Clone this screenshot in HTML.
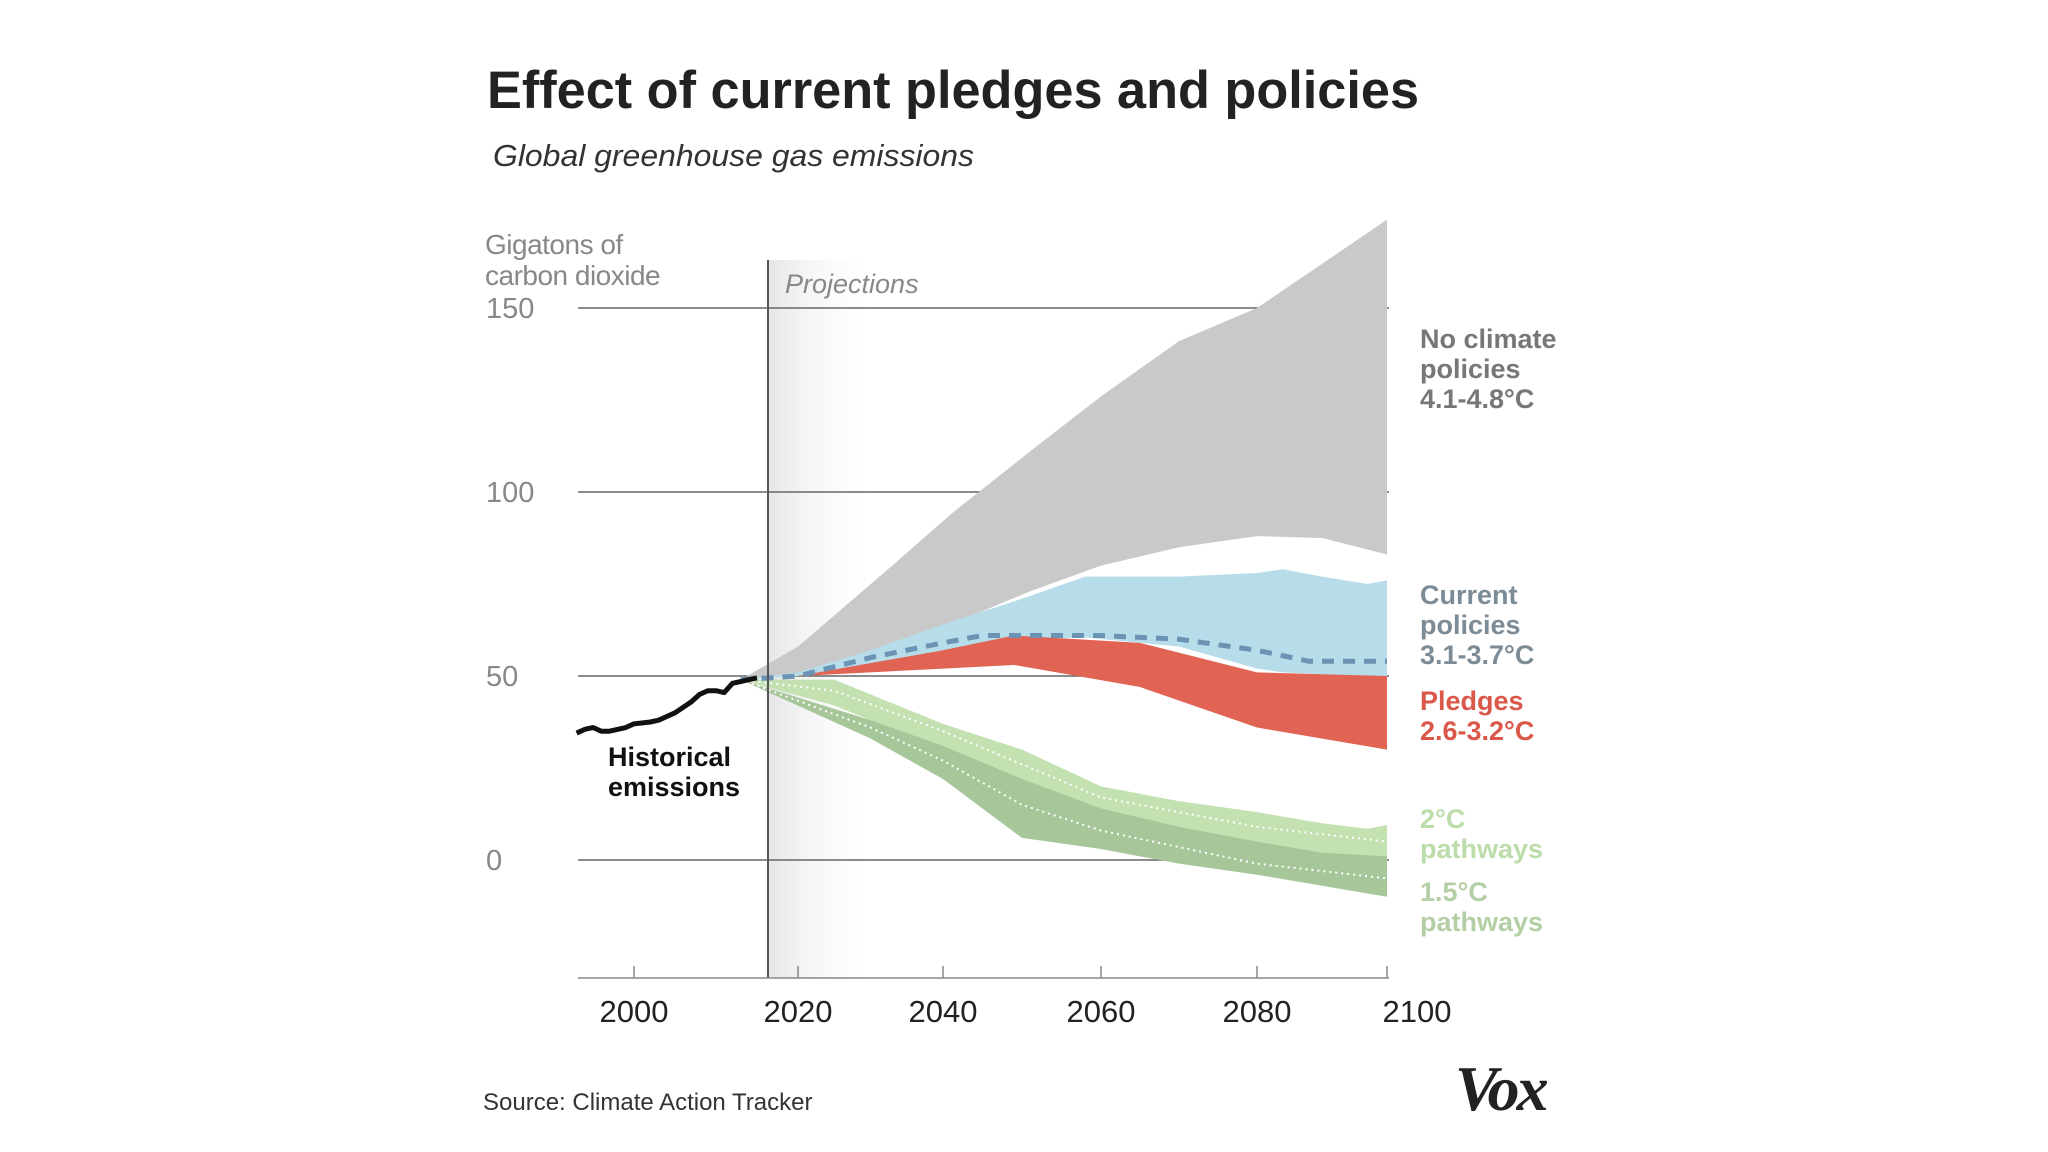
<!DOCTYPE html>
<html><head><meta charset="utf-8"><style>
html,body{margin:0;padding:0;background:#fff;}
svg{display:block;font-family:"Liberation Sans",sans-serif;}
</style></head><body>
<svg id="chart" width="2048" height="1152" viewBox="0 0 2048 1152" xmlns="http://www.w3.org/2000/svg">
<defs>
<linearGradient id="projGrad" x1="0" x2="1" y1="0" y2="0">
<stop offset="0" stop-color="#e6e6e6"/><stop offset="1" stop-color="#ffffff" stop-opacity="0"/>
</linearGradient>
</defs>
<text x="487" y="108" font-size="53" font-weight="bold" fill="#222" textLength="932" lengthAdjust="spacingAndGlyphs">Effect of current pledges and policies</text>
<text x="493" y="166" font-size="31" font-style="italic" fill="#333" textLength="481" lengthAdjust="spacingAndGlyphs">Global greenhouse gas emissions</text>
<text x="485" y="254" font-size="28" fill="#888" letter-spacing="-0.5">Gigatons of</text>
<text x="485" y="285" font-size="28" fill="#888" letter-spacing="-0.5">carbon dioxide</text>
<rect x="768" y="260" width="110" height="718" fill="url(#projGrad)"/>
<g id="grid"></g>
<g id="areas"></g>
<g id="lines"></g>
<line x1="768" y1="260" x2="768" y2="978" stroke="#555" stroke-width="2"/>
<text x="785" y="293" font-size="27" font-style="italic" fill="#888">Projections</text>
<g id="xaxis"></g>
<text x="608" y="766" font-size="27" font-weight="bold" fill="#111">Historical</text>
<text x="608" y="796" font-size="27" font-weight="bold" fill="#111">emissions</text>
<g font-size="27" font-weight="bold" fill="#777">
<text x="1420" y="348">No climate</text><text x="1420" y="378">policies</text><text x="1420" y="408">4.1-4.8°C</text></g>
<g font-size="27" font-weight="bold" fill="#7c8c96">
<text x="1420" y="604">Current</text><text x="1420" y="634">policies</text><text x="1420" y="664">3.1-3.7°C</text></g>
<g font-size="27" font-weight="bold" fill="#d9584a">
<text x="1420" y="710">Pledges</text><text x="1420" y="740">2.6-3.2°C</text></g>
<g font-size="27" font-weight="bold" fill="#bcdcaa">
<text x="1420" y="828">2°C</text><text x="1420" y="858">pathways</text></g>
<g font-size="27" font-weight="bold" fill="#b4cfa6">
<text x="1420" y="901">1.5°C</text><text x="1420" y="931">pathways</text></g>
<text x="483" y="1110" font-size="24" fill="#333">Source: Climate Action Tracker</text>
<text x="1455" y="1110" font-size="64" font-weight="bold" font-style="italic" font-family="Liberation Serif, serif" fill="#222" letter-spacing="-3">Vox</text>
</svg>
<script>
const tickYears=[2000,2020,2040,2060,2080,2100];
const tickPx=[634,798,943,1101,1257,1387];
const yTicks=[0,50,100,150];
const histYears=[1993,1994,1995,1996,1997,1999,2000,2002,2003,2004,2005,2006,2007,2008,2009,2010,2011,2012,2013,2014,2015];
const histVals=[34.5,35.5,36,35,35,36,37,37.5,38,39,40,41.5,43,45,46,46,45.5,48,48.5,49,49.5];
const noPolYears=[2013,2020,2033,2041,2051,2060,2070,2080,2090,2100];
const noPolUpper=[49,58,80,94,111,126,141,150,162,174];
const noPolLower=[49,50,57,64,73,80,85,88,87.5,83];
const curYears=[2013,2020,2030,2040,2050,2058,2070,2080,2084,2090,2097,2100];
const curUpper=[49,51,57,64,71,77,77,78,79,77,75,76];
const curLower=[49,50,53,57,60,60.5,58,52,51,50.5,50,50];
const curMedYears=[2013,2020,2030,2040,2045,2060,2070,2080,2088,2100];
const curMedian=[49,50,55,59,61,61,60,57,54,54];
const pledgeYears=[2013,2020,2040,2049,2065,2080,2100];
const pledgeUpper=[49,50,57,61,59,51,50];
const pledgeLower=[49,50,52,53,47,36,30];
const twoYears=[2013,2025,2040,2050,2060,2070,2080,2090,2097,2100];
const twoUpper=[49,49,37,30,20,16,13,10,8.5,9.5];
const twoLower=[49,42,30,20,12,8,5,2,1,0.5];
const oneFiveYears=[2013,2030,2040,2050,2060,2070,2080,2090,2100];
const oneFiveUpper=[49,38,31,22,14,9,5,2,1];
const oneFiveLower=[49,33,22,6,3,-1,-4,-7,-10];
const twoMedYears=[2013,2025,2040,2060,2080,2100];
const twoMedian=[49,46,35,17,9,5];
const oneFiveMedYears=[2013,2030,2040,2050,2060,2080,2100];
const oneFiveMedian=[49,36,27,15,8,-1,-5];

const NS='http://www.w3.org/2000/svg';
function x(yr){
  if(yr<=tickYears[0]) return tickPx[0]+(yr-tickYears[0])*(tickPx[1]-tickPx[0])/(tickYears[1]-tickYears[0]);
  for(let i=0;i<tickYears.length-1;i++){
    if(yr<=tickYears[i+1]) return tickPx[i]+(yr-tickYears[i])*(tickPx[i+1]-tickPx[i])/(tickYears[i+1]-tickYears[i]);
  }
  return tickPx[tickPx.length-1];
}
function y(v){return 860-v*3.68;}
function mk(tag,attrs,parent){const e=document.createElementNS(NS,tag);for(const k in attrs)e.setAttribute(k,attrs[k]);document.getElementById(parent).appendChild(e);return e;}
function band(years,up,lo,fill,name){
  let d='M'+years.map((t,i)=>x(t)+','+y(up[i])).join('L');
  for(let i=years.length-1;i>=0;i--) d+='L'+x(years[i])+','+y(lo[i]);
  const p=mk('path',{d:d+'Z',fill:fill},'areas');
  
  
}
function line(years,vals,attrs,name){
  const p=mk('path',Object.assign({d:'M'+years.map((t,i)=>x(t)+','+y(vals[i])).join('L'),fill:'none'},attrs),'lines');
  
  
}
yTicks.forEach(v=>{
  const l=mk('line',{x1:578,x2:1389,y1:y(v),y2:y(v),stroke:'#666','stroke-width':1.5},'grid');
  
  
  const t=mk('text',{x:486,y:y(v)+10,'font-size':29,fill:'#888'},'grid');
  t.textContent=v;
  
  
});
band(noPolYears,noPolUpper,noPolLower,'#c9c9c9','no-policy-band');
band(curYears,curUpper,curLower,'#b7dcea','current-policy-band');
band(pledgeYears,pledgeUpper,pledgeLower,'#e06353','pledges-band');
band(twoYears,twoUpper,twoLower,'#c3e1b1','two-degree-band');
band(oneFiveYears,oneFiveUpper,oneFiveLower,'#a7c69a','one-five-degree-band');
line(curMedYears,curMedian,{stroke:'#6b93b3','stroke-width':5,'stroke-dasharray':'12 9'},'current-policy-median');
line(twoMedYears,twoMedian,{stroke:'#ffffff','stroke-width':2,'stroke-dasharray':'2 4'},'two-degree-median');
line(oneFiveMedYears,oneFiveMedian,{stroke:'#ffffff','stroke-width':2,'stroke-dasharray':'2 4'},'one-five-degree-median');
line(histYears,histVals,{stroke:'#111','stroke-width':5,'stroke-linejoin':'round'},'historical-emissions-line');
const ax=mk('line',{x1:578,x2:1389,y1:978,y2:978,stroke:'#888','stroke-width':1.5},'xaxis');


tickYears.forEach(t=>{
  const l=mk('line',{x1:x(t),x2:x(t),y1:966,y2:978,stroke:'#888','stroke-width':1.5},'xaxis');
  
  
  const tx=mk('text',{x:x(t)+(t===2100?30:0),y:1022,'font-size':31,fill:'#222','text-anchor':'middle'},'xaxis');
  tx.textContent=t;
  
  
});
</script>
</body></html>
